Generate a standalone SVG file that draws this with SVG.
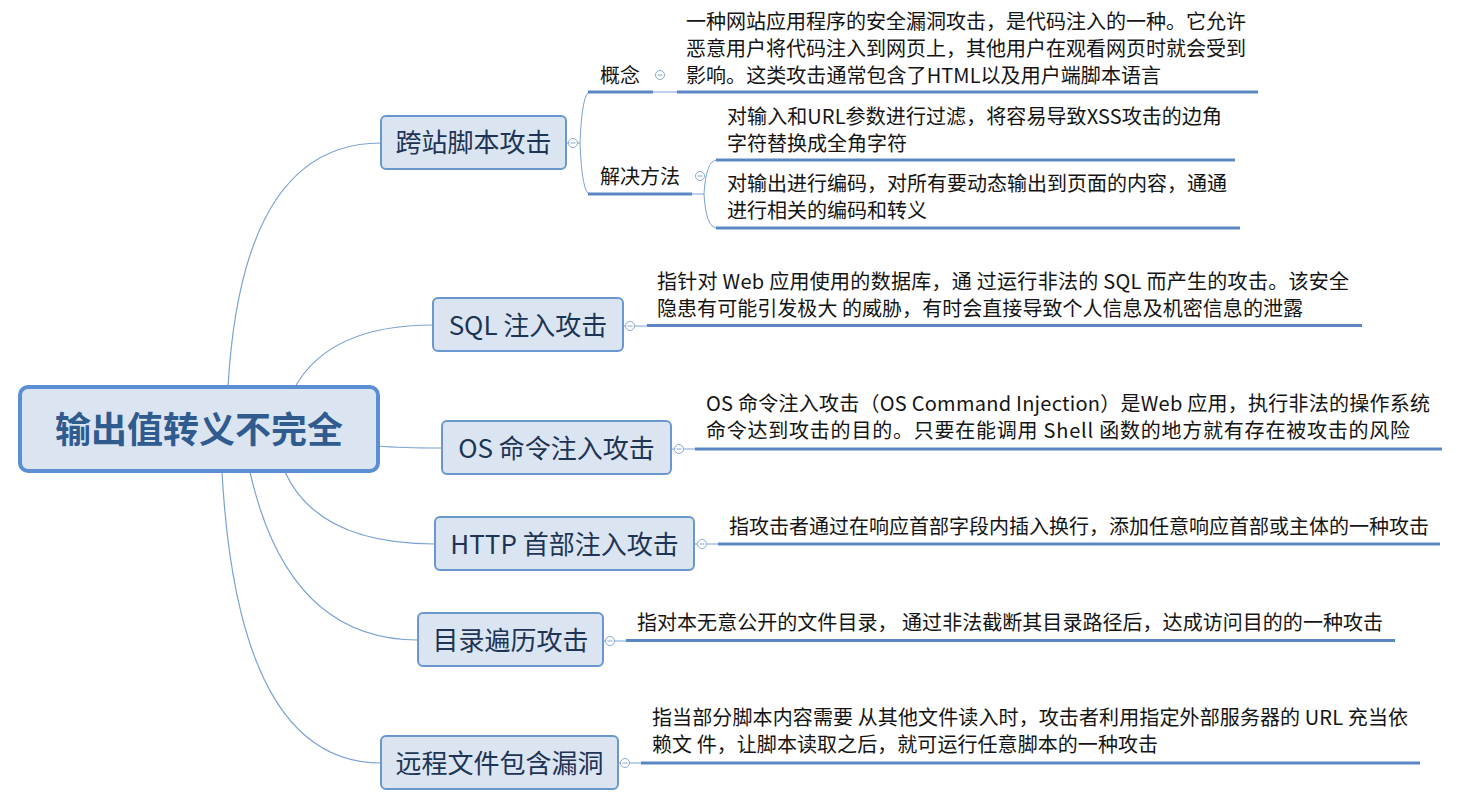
<svg xmlns="http://www.w3.org/2000/svg" width="1475" height="798" viewBox="0 0 1475 798">
<style>
text{font-family:"Microsoft YaHei","Noto Sans CJK SC","Noto Sans",sans-serif}
.node rect{fill:#dbe5f1;stroke:#6a97cf;stroke-width:2}
.lbl{font-size:26px;fill:#1d3454;text-anchor:middle}
.root rect{fill:#dbe5f1;stroke:#5b8ed3;stroke-width:4}
.rootlbl{font-size:36px;font-weight:bold;fill:#2f5b8e;text-anchor:middle}
.leaf{font-size:20px;fill:#141414}
.ul{stroke:#5a87c3;stroke-width:3;fill:none}
.conn{fill:none;stroke:#7aa2d3;stroke-width:1.2}
.thin{fill:none;stroke:#7aa2d3;stroke-width:1}
.tg circle{fill:#fff;stroke:#8aaad0;stroke-width:1}
.tg line{stroke:#8aaad0;stroke-width:1}
</style>
<rect width="1475" height="798" fill="#fff"/>
<defs>
<g id="toggle" class="tg"><circle cx="0" cy="0" r="4.5"/><line x1="-2.5" y1="0" x2="2.5" y2="0"/></g>
</defs>

<g id="connectors">
<path class="conn" d="M228,387 Q242,143 381,143"/>
<path class="conn" d="M295,387 Q330,325 433,325"/>
<path class="conn" d="M378,446 Q400,448 442,448"/>
<path class="conn" d="M285,472 Q318,544 435,544"/>
<path class="conn" d="M250,472 Q288,640 418,640"/>
<path class="conn" d="M222,472 Q238,763 381,763"/>
<path class="thin" d="M566,143 L568.5,143 M577.5,143 L580,143 Q582,92 590,92 M580,143 Q582,194 590,194"/>
<path class="thin" d="M653,92 L677,92"/>
<path class="thin" d="M692,194 L704,194 Q706,160 717,160 M704,194 Q706,228 717,228"/>
<path class="thin" d="M623,326 L625.5,326 M634.5,326 L647,326"/>
<path class="thin" d="M671,449 L674.5,449 M683.5,449 L695,449"/>
<path class="thin" d="M694,544 L697.5,544 M706.5,544 L718,544"/>
<path class="thin" d="M603,641 L605.5,641 M614.5,641 L626,641"/>
<path class="thin" d="M618,763 L620.5,763 M629.5,763 L641,763"/>
<line class="ul" x1="588" y1="92" x2="653" y2="92"/>
<line class="ul" x1="677" y1="92" x2="1258" y2="92"/>
<line class="ul" x1="588" y1="194" x2="692" y2="194"/>
<line class="ul" x1="716" y1="160" x2="1235" y2="160"/>
<line class="ul" x1="716" y1="228" x2="1240" y2="228"/>
<line class="ul" x1="647" y1="325.5" x2="1362" y2="325.5"/>
<line class="ul" x1="695" y1="449" x2="1442" y2="449"/>
<line class="ul" x1="718" y1="544" x2="1440" y2="544"/>
<line class="ul" x1="626" y1="640.5" x2="1395" y2="640.5"/>
<line class="ul" x1="641" y1="763" x2="1420" y2="763"/>
</g>

<g id="root" class="root">
<rect x="20" y="387" width="358" height="84" rx="8"/>
<text class="rootlbl" x="199" y="443">输出值转义不完全</text>
</g>

<g id="n-xss" class="node">
<rect x="381" y="116" width="185" height="53" rx="5"/>
<text class="lbl" x="473.5" y="152">跨站脚本攻击</text>
<use href="#toggle" x="573" y="143"/>
</g>
<g id="n-xss-concept">
<text class="leaf" x="600" y="83">概念</text>
<use href="#toggle" x="660" y="75"/>
</g>
<g id="n-xss-concept-text">
<text class="leaf" x="686" y="29">一种网站应用程序的安全漏洞攻击，是代码注入的一种。它允许</text>
<text class="leaf" x="686" y="56">恶意用户将代码注入到网页上，其他用户在观看网页时就会受到</text>
<text class="leaf" x="686" y="83" textLength="475" lengthAdjust="spacing">影响。这类攻击通常包含了HTML以及用户端脚本语言</text>
</g>
<g id="n-xss-solution">
<text class="leaf" x="600" y="184">解决方法</text>
<use href="#toggle" x="700" y="176"/>
</g>
<g id="n-xss-sol1">
<text class="leaf" x="727" y="124" textLength="495" lengthAdjust="spacing">对输入和URL参数进行过滤，将容易导致XSS攻击的边角</text>
<text class="leaf" x="727" y="151">字符替换成全角字符</text>
</g>
<g id="n-xss-sol2">
<text class="leaf" x="727" y="191">对输出进行编码，对所有要动态输出到页面的内容，通通</text>
<text class="leaf" x="727" y="218">进行相关的编码和转义</text>
</g>

<g id="n-sql" class="node">
<rect x="433" y="298" width="190" height="53" rx="5"/>
<text class="lbl" x="528" y="334.5">SQL 注入攻击</text>
<use href="#toggle" x="630" y="326"/>
</g>
<g id="n-sql-text">
<text class="leaf" x="657" y="289" textLength="692" lengthAdjust="spacing">指针对 Web 应用使用的数据库，通 过运行非法的 SQL 而产生的攻击。该安全</text>
<text class="leaf" x="657" y="316" textLength="646" lengthAdjust="spacing">隐患有可能引发极大 的威胁，有时会直接导致个人信息及机密信息的泄露</text>
</g>

<g id="n-os" class="node">
<rect x="442" y="421" width="229" height="53" rx="5"/>
<text class="lbl" x="556.5" y="457.5">OS 命令注入攻击</text>
<use href="#toggle" x="679" y="449"/>
</g>
<g id="n-os-text">
<text class="leaf" x="706" y="410.5" textLength="724" lengthAdjust="spacing">OS 命令注入攻击（OS Command Injection）是Web 应用，执行非法的操作系统</text>
<text class="leaf" x="706" y="437.5" textLength="704" lengthAdjust="spacing">命令达到攻击的目的。只要在能调用 Shell 函数的地方就有存在被攻击的风险</text>
</g>

<g id="n-http" class="node">
<rect x="435" y="517" width="259" height="53" rx="5"/>
<text class="lbl" x="564.5" y="553.5">HTTP 首部注入攻击</text>
<use href="#toggle" x="702" y="544"/>
</g>
<g id="n-http-text">
<text class="leaf" x="729" y="533.5">指攻击者通过在响应首部字段内插入换行，添加任意响应首部或主体的一种攻击</text>
</g>

<g id="n-dir" class="node">
<rect x="418" y="613" width="185" height="53" rx="5"/>
<text class="lbl" x="510.5" y="649.5">目录遍历攻击</text>
<use href="#toggle" x="610" y="641"/>
</g>
<g id="n-dir-text">
<text class="leaf" x="637" y="630" textLength="746" lengthAdjust="spacing">指对本无意公开的文件目录， 通过非法截断其目录路径后，达成访问目的的一种攻击</text>
</g>

<g id="n-rfi" class="node">
<rect x="381" y="736" width="237" height="53" rx="5"/>
<text class="lbl" x="499.5" y="772.5">远程文件包含漏洞</text>
<use href="#toggle" x="625" y="763"/>
</g>
<g id="n-rfi-text">
<text class="leaf" x="652" y="725" textLength="756" lengthAdjust="spacing">指当部分脚本内容需要 从其他文件读入时，攻击者利用指定外部服务器的 URL 充当依</text>
<text class="leaf" x="652" y="752" textLength="506" lengthAdjust="spacing">赖文 件，让脚本读取之后，就可运行任意脚本的一种攻击</text>
</g>
</svg>
